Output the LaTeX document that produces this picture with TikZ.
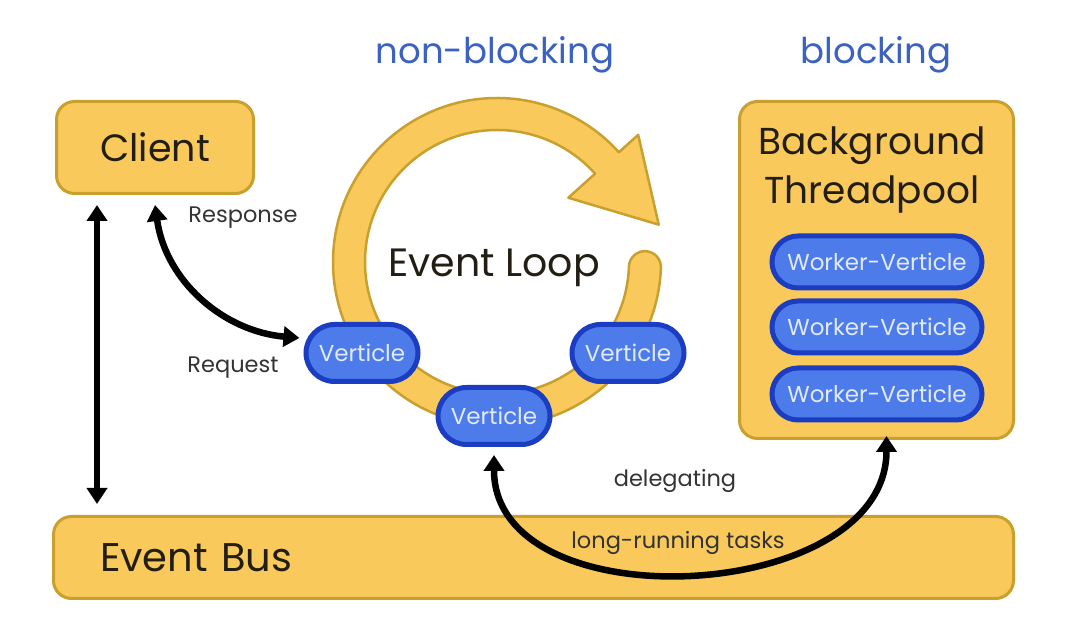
\documentclass[tikz,border=0pt]{standalone}
\usepackage{fontspec}
\setmainfont{Poppins}
\usetikzlibrary{positioning,shapes.misc,arrows.meta,calc}

\definecolor{goldfill}{HTML}{F9C95C}
\definecolor{goldline}{HTML}{C9A02E}
\definecolor{vfill}{HTML}{4D7BEA}
\definecolor{vline}{HTML}{1B3DC2}
\definecolor{vtext}{HTML}{E2EAFF}
\definecolor{titleblue}{HTML}{3B62C2}
\definecolor{lblgray}{HTML}{333333}
\definecolor{bigtext}{HTML}{231E14}

\tikzset{
  box/.style={draw=goldline, fill=goldfill, line width=3pt, rounded corners=18pt,
    text=bigtext, inner sep=0pt},
  ring/.style={draw=goldline, fill=goldfill, line width=2.5pt, line join=round},
  vert/.style={rounded rectangle, draw=vline, fill=vfill, line width=5pt, text=vtext,
    font=\fontsize{23}{26}\selectfont, minimum width=112pt, minimum height=57pt, inner sep=0pt},
  worker/.style={vert, minimum width=210pt, minimum height=52pt, font=\fontsize{23}{26}\selectfont},
  lbl/.style={text=lblgray, font=\fontsize{22.5}{26}\selectfont},
  heading/.style={text=titleblue, font=\fontsize{35.5}{38}\selectfont},
  flow/.style={line width=6.5pt, {Triangle[length=16pt,width=20pt]}-{Triangle[length=16pt,width=20pt]}}
}

\begin{document}
\begin{tikzpicture}[x=1pt,y=1pt]
  \useasboundingbox (0,0) rectangle (1080,634);

  % Define nodes
  \node[heading] (nonblock) at (495,579) {non-blocking};
  \node[heading] (block) at (876,579) {blocking};

  \node[box, minimum width=197pt, minimum height=92pt, font=\fontsize{38}{42}\selectfont] (client) at (155,486.5) {Client};
  \node[box, minimum width=960pt, minimum height=82pt, text width=867pt, align=left,
    font=\fontsize{40}{44}\selectfont] (bus) at (533.5,76.5) {Event Bus};
  \node[box, minimum width=274pt, minimum height=337pt] (pool) at (876.5,364) {};
  \node[text=bigtext, align=center, font=\fontsize{37.5}{49}\selectfont] (pooltitle) at (872,464) {Background\\ Threadpool};

  \node[worker] (wa) at (877,372) {Worker-Verticle};
  \node[worker, below=8pt of wa] (wb) {Worker-Verticle};
  \node[worker, below=10pt of wb] (wc) {Worker-Verticle};

  % Event loop ring
  \coordinate (loopc) at (497,372);
  \begin{scope}[shift={(loopc)}]
    \draw[ring] (-2:132) arc[start angle=178,end angle=-2,radius=16]
      arc[start angle=-2,end angle=-318,radius=164] -- (42:190) -- (13:166)
      -- (42:96) -- (42:132) arc[start angle=-318,end angle=-2,radius=132] -- cycle;
  \end{scope}
  \node[text=bigtext, font=\fontsize{39.5}{43}\selectfont] (looplbl) at (494,366) {Event Loop};

  \node[vert] (vl) at (362,281) {Verticle};
  \node[vert] (vb) at (494,218) {Verticle};
  \node[vert] (vr) at (628,281) {Verticle};

  % Connect the nodes
  \coordinate (lt) at ([xshift=42pt,yshift=-10pt]client.south west);
  \draw[flow] (lt) -- ($(lt |- bus.north)+(0,11)$);
  \draw[flow] ([yshift=-10pt]client.south) to[out=-82,in=175] ([shift={(-4pt,15pt)}]vl.west);
  \draw[flow] ([yshift=-8pt]vb.south) to[out=-90,in=-90,looseness=1.1] ([xshift=10pt,yshift=4pt]pool.south);

  \node[lbl] (resp) at (243,416) {Response};
  \node[lbl] (req) at (233,266) {Request};
  \node[lbl] (deleg) at (675,153) {delegating};
  \node[lbl] (tasks) at (678,91) {long-running tasks};
\end{tikzpicture}
\end{document}
